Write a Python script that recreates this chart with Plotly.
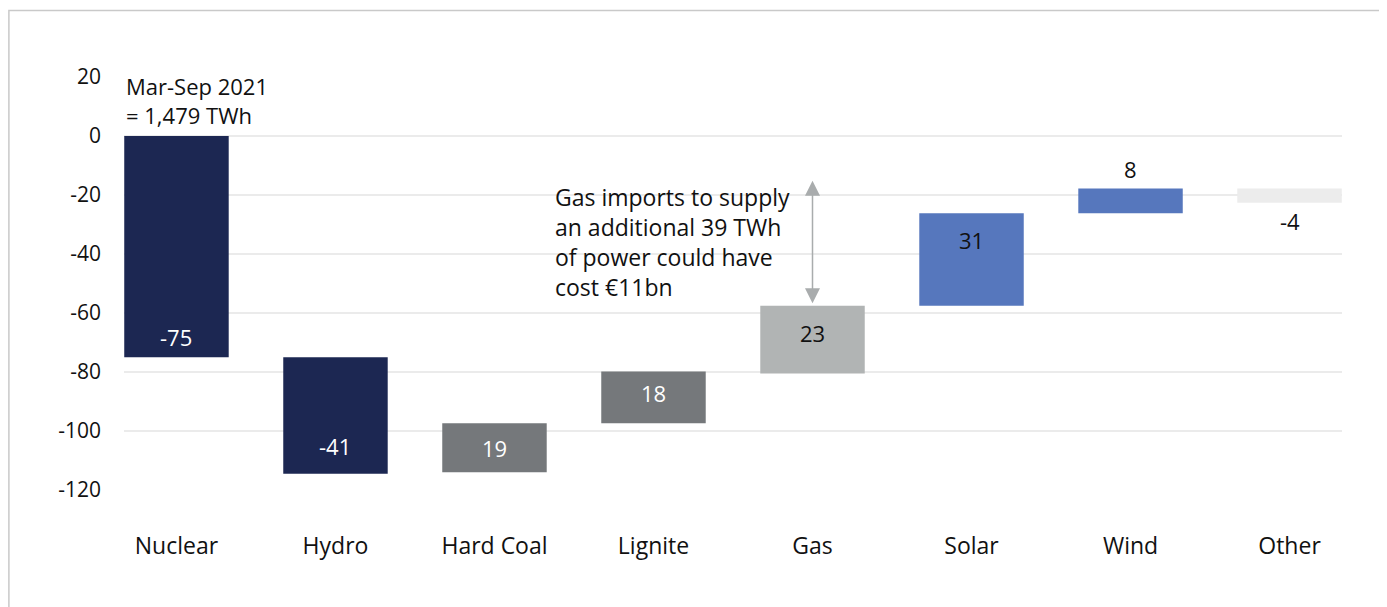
import plotly.graph_objects as go

categories = ["Nuclear", "Hydro", "Hard Coal", "Lignite", "Gas", "Solar", "Wind", "Other"]
labels = [-75, -41, 19, 18, 23, 31, 8, -4]
# bar start / end levels (TWh change vs reference)
bar_start = [0, -75, -114, -97.4, -80.5, -57.5, -26.2, -17.8]
bar_end = [-75, -114.5, -97.4, -79.8, -57.5, -26.2, -17.8, -22.6]
colors = ["#1c2752", "#1c2752", "#75787b", "#75787b", "#b1b4b4", "#5677bd", "#5677bd", "#ececec"]
text_colors = ["white", "white", "white", "white", "#111111", "#111111", "#111111", "#111111"]
# label placement: where on the bar the label sits, and pixel offset
label_mode = ["low", "low", "mid", "mid", "high", "high", "above", "below"]
label_shift = [20, 28, 0, 4, -27, -27, 20, -18]

title_text = "Mar-Sep 2021<br>= 1,479 TWh"
note_text = "Gas imports to supply<br>an additional 39 TWh<br>of power could have<br>cost €11bn"
yticks = [20, 0, -20, -40, -60, -80, -100, -120]

FONT = "Open Sans"
heights = [e - s for s, e in zip(bar_start, bar_end)]

fig = go.Figure()
fig.add_trace(go.Bar(
    x=categories, y=heights, base=bar_start,
    marker=dict(color=colors, line=dict(width=0)),
    hoverinfo="skip", showlegend=False,
))

annotations = []
for c, s, e, t, tc, m, sh in zip(categories, bar_start, bar_end, labels, text_colors, label_mode, label_shift):
    lo, hi = min(s, e), max(s, e)
    y = {"low": lo, "mid": (lo + hi) / 2, "high": hi, "above": hi, "below": lo}[m]
    annotations.append(dict(
        x=c, y=y, xref="x", yref="y", text=str(t), showarrow=False,
        yshift=sh, font=dict(family=FONT, size=22, color=tc),
    ))

annotations.append(dict(
    x=0, xref="paper", y=1.02, yref="paper", xanchor="left", yanchor="top",
    text=title_text, showarrow=False, align="left",
    font=dict(family=FONT, size=22, color="#111111"),
))
annotations.append(dict(
    x=2.37, xref="x", y=-14.5, yref="y", xanchor="left", yanchor="top",
    text=note_text, showarrow=False, align="left",
    font=dict(family=FONT, size=23, color="#111111"),
))
annotations.append(dict(
    x=4, y=-56.7, xref="x", yref="y", ax=4, ay=-14.7, axref="x", ayref="y",
    text="", showarrow=True, arrowhead=2, startarrowhead=2, arrowside="end+start",
    arrowsize=2, startarrowsize=2, arrowwidth=1.5, arrowcolor="#a9acad",
))

fig.update_layout(
    width=1379, height=599,
    margin=dict(l=116, r=45, t=69, b=117),
    paper_bgcolor="white", plot_bgcolor="white",
    bargap=0.343,
    font=dict(family=FONT, size=22, color="#111111"),
    annotations=annotations,
    shapes=[dict(type="rect", xref="paper", yref="paper",
                 x0=-0.0945, x1=1.0355, y0=-0.32, y1=1.161,
                 line=dict(color="#c9c9c9", width=1.5), fillcolor="rgba(0,0,0,0)", layer="below")],
    xaxis=dict(type="category", range=[-0.33, 7.33], showgrid=False, showline=False,
               zeroline=False, ticks="", ticklabelstandoff=40,
               tickfont=dict(family=FONT, size=23, color="#111111")),
    yaxis=dict(range=[-120, 20], tickvals=yticks, ticktext=[str(v) for v in yticks],
               showgrid=True, gridcolor="#ebebeb",
               gridwidth=1.5, zeroline=False, showline=False, ticks="", ticklabelstandoff=22,
               tickfont=dict(family=FONT, size=21, color="#111111")),
)

fig.write_html("out.html")
